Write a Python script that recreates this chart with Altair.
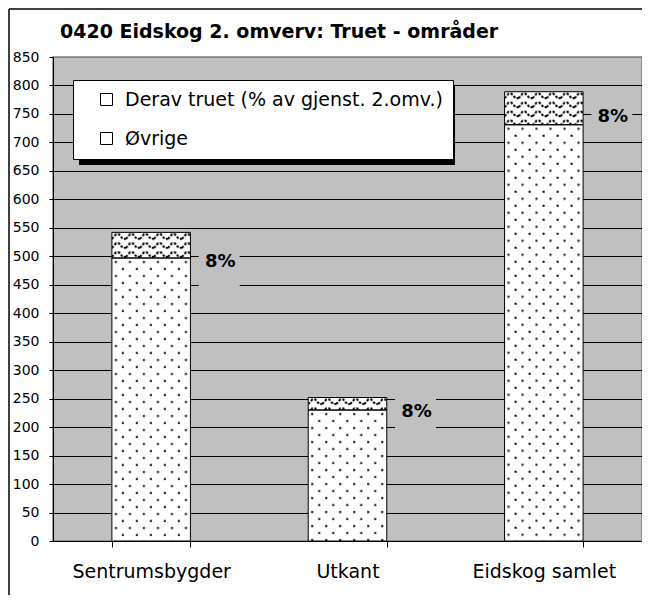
import base64
import altair as alt
import pandas as pd

# ---- data ----
categories = ["Sentrumsbygder", "Utkant", "Eidskog samlet"]
ovrige = [497, 230, 731]          # lower segment (Øvrige)
truet = [45, 22, 58]              # upper segment (Derav truet)
pct_labels = ["8%", "8%", "8%"]
label_pos = [490, 227, 745]       # vertical position of the % labels (axis units)
series = ["Derav truet (% av gjenst. 2.omv.)", "Øvrige"]
y_ticks = list(range(0, 851, 50))

title_text = "0420 Eidskog 2. omverv: Truet - områder"
FONT = "DejaVu Sans"

rows = []
for c, o, t in zip(categories, ovrige, truet):
    rows.append({"cat": c, "series": series[1], "lo": 0, "hi": o})
    rows.append({"cat": c, "series": series[0], "lo": o, "hi": o + t})
bars = pd.DataFrame(rows)
labels = pd.DataFrame({"cat": categories, "lo": label_pos, "txt": pct_labels})
one = pd.DataFrame({"k": [0]})


def svg_url(pattern):
    svg = ('<svg xmlns="http://www.w3.org/2000/svg" width="100%" height="100%">'
           '<defs>' + pattern + '</defs>'
           '<rect width="100%" height="100%" fill="white"/>'
           '<rect width="100%" height="100%" fill="url(#p)"/></svg>')
    return "data:image/svg+xml;base64," + base64.b64encode(svg.encode("utf-8")).decode("ascii")


dots = ('<pattern id="p" width="14" height="14" patternUnits="userSpaceOnUse">'
        '<rect x="3" y="3" width="2" height="2" fill="black"/>'
        '<rect x="10" y="10" width="2" height="2" fill="black"/></pattern>')
waves = ('<pattern id="p" width="14" height="9" patternUnits="userSpaceOnUse">'
         '<path d="M0,6.5 L4,2 L7,2 L11,6.5 L14,6.5" fill="none" stroke="black" '
         'stroke-width="2" stroke-dasharray="2.5,1.5"/></pattern>')

PLOT_W, PLOT_H = 589, 484

x_enc = alt.X(
    "cat:N", sort=categories,
    scale=alt.Scale(paddingInner=0.6, paddingOuter=0.3),
    axis=alt.Axis(title=None, labelAngle=0, tickBand="extent", grid=False,
                  domainColor="black", tickColor="black", tickSize=6,
                  labelFont=FONT, labelFontSize=19, labelColor="black",
                  labelPadding=15),
)
y_scale = alt.Scale(domain=[0, 850], nice=False, zero=True)
y_axis = alt.Axis(title=None, values=y_ticks, grid=True,
                  gridColor={"condition": {"test": "datum.value === 850", "value": "#808080"},
                             "value": "black"},
                  gridWidth=1, domainColor="black", tickColor="black", tickSize=4,
                  labelFont=FONT, labelFontSize=14, labelColor="black",
                  labelPadding=10)
y_enc = alt.Y("lo:Q", scale=y_scale, axis=y_axis)

base = alt.Chart(bars)

white_bars = base.mark_bar(fill="white", strokeWidth=0).encode(x=x_enc, y=y_enc, y2="hi:Q")

img_ovr = base.transform_filter(alt.datum.series == series[1]).mark_image(aspect=False).encode(
    x=x_enc, y=y_enc, y2="hi:Q", url=alt.value(svg_url(dots)))
img_tru = base.transform_filter(alt.datum.series == series[0]).mark_image(aspect=False).encode(
    x=x_enc, y=y_enc, y2="hi:Q", url=alt.value(svg_url(waves)))

outline = base.mark_bar(fillOpacity=0, stroke="black", strokeWidth=1).encode(
    x=x_enc, y=y_enc, y2="hi:Q",
    color=alt.Color("series:N", scale=alt.Scale(domain=series, range=["white", "white"]),
                    legend=alt.Legend(title=None, orient="none", legendX=20, legendY=23,
                                      fillColor="white", strokeColor="black", padding=10,
                                      symbolOffset=14, symbolType="square", symbolSize=144,
                                      symbolStrokeColor="black", symbolStrokeWidth=1,
                                      symbolFillColor="white", symbolOpacity=1,
                                      labelFont=FONT, labelFontSize=19, labelColor="black",
                                      labelOffset=9, labelLimit=500, rowPadding=19)),
)

box_path = "M-1,-1.17 L1,-1.17 L1,1.17 L-1,1.17 Z"
label_box = alt.Chart(labels).mark_point(
    shape=box_path, size=1681, filled=True, fill="#c0c0c0", opacity=1, strokeWidth=0, xOffset=68
).encode(x=x_enc, y=y_enc)

label_text = alt.Chart(labels).mark_text(
    font=FONT, fontSize=18, fontWeight="bold", color="black", align="center",
    baseline="middle", xOffset=69
).encode(x=x_enc, y=y_enc, text="txt:N")

frame_left = alt.Chart(one).mark_rule(color="black", strokeWidth=1.5).encode(
    x=alt.value(-44), y=alt.value(-48), y2=alt.value(538))
frame_top = alt.Chart(one).mark_rule(color="black", strokeWidth=1.5).encode(
    x=alt.value(-44), x2=alt.value(PLOT_W), y=alt.value(-48))

shadow = alt.Chart(one).mark_rect(fill="black", strokeWidth=0).encode(
    x=alt.value(26), x2=alt.value(402), y=alt.value(29), y2=alt.value(108))

title = alt.Chart(one).mark_text(
    text=title_text, font=FONT, fontSize=19, fontWeight="bold", color="black",
    align="left", baseline="alphabetic"
).encode(x=alt.value(7), y=alt.value(-19))

chart = alt.layer(
    white_bars, img_ovr, img_tru, outline, label_box, label_text,
    frame_left, frame_top, shadow, title
).properties(
    width=PLOT_W, height=PLOT_H,
    padding={"left": 45, "top": 49, "right": 0, "bottom": 54},
    autosize=alt.AutoSizeParams(type="none"),
).configure(background="white").configure_view(
    fill="#c0c0c0", stroke="#808080", strokeWidth=1.5
)

chart.save("out.html", embed_options={"renderer": "svg", "actions": False})
